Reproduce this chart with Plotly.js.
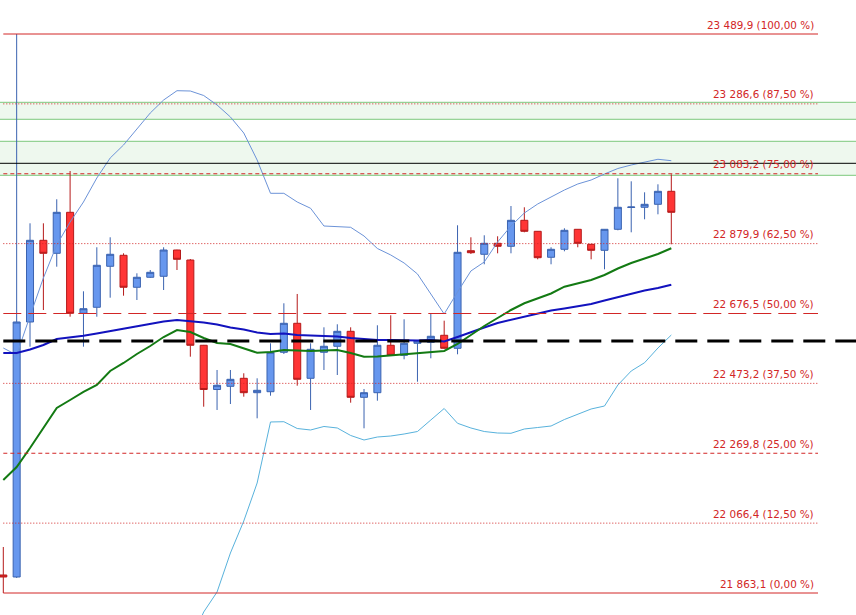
<!DOCTYPE html>
<html>
<head>
<meta charset="utf-8">
<script src="https://cdn.plot.ly/plotly-3.0.1.min.js"></script>
<style>html,body{margin:0;padding:0;background:#fff;}#chart{width:856px;height:615px;}</style>
</head>
<body>
<div id="chart"></div>
<script>
// ---- data ----
const opens  = [21915.5,21909.7,22651.8,22889.5,22851.7,22971.0,22677.1,22694.6,22813.9,22845.9,22752.8,22781.9,22784.8,22861.3,22832.2,22584.0,22455.3,22464.6,22487.9,22446.0,22448.9,22563.6,22648.0,22487.9,22563.6,22581.1,22624.7,22432.6,22446.0,22584.0,22554.8,22589.8,22592.7,22613.1,22575.2,22859.3,22848.8,22880.8,22872.1,22947.7,22915.7,22840.1,22863.3,22921.5,22877.9,22860.4,22921.5,22985.0,22985.6,22994.3,23032.1];
const highs  = [21997.0,23489.9,22939.0,22939.0,23008.9,23091.2,22741.1,22869.2,22898.3,22851.7,22793.5,22803.1,22869.2,22862.0,22835.1,22585.0,22512.1,22512.1,22502.5,22487.9,22589.8,22706.2,22733.3,22589.8,22636.3,22645.1,22636.3,22456.8,22642.2,22671.3,22659.6,22599.4,22677.1,22655.6,22933.2,22898.3,22904.1,22901.2,22989.3,22985.6,22916.5,22869.2,22924.5,22922.0,22878.5,22922.0,23070.0,23061.2,23029.2,23052.5,23081.6];
const lows   = [21863.1,21906.8,22579.9,22686.7,22812.7,22667.2,22579.9,22667.2,22722.5,22728.3,22715.8,22780.0,22744.9,22803.1,22550.8,22405.3,22395.7,22413.1,22434.4,22371.5,22437.3,22558.6,22466.4,22395.7,22512.1,22497.5,22416.9,22342.4,22422.7,22554.0,22543.2,22478.0,22546.1,22574.0,22557.8,22849.7,22819.7,22851.7,22851.7,22912.8,22834.2,22819.7,22857.5,22869.2,22834.2,22805.1,22918.6,22912.8,22950.6,22965.2,22877.9];
const closes = [21909.7,22651.8,22889.5,22851.7,22971.0,22677.1,22690.5,22816.8,22848.8,22752.8,22781.9,22796.4,22861.3,22834.2,22584.0,22455.3,22467.6,22485.0,22446.0,22453.0,22563.6,22648.0,22485.0,22572.3,22581.1,22624.7,22432.6,22446.0,22584.0,22554.8,22589.8,22596.5,22610.2,22575.2,22854.6,22853.4,22880.8,22872.1,22947.7,22915.7,22838.9,22863.3,22918.6,22880.8,22860.4,22921.5,22985.6,22986.4,22994.3,23032.1,22971.0];

const maFast = [22192.0,22229.8,22285.1,22343.3,22401.5,22424.8,22448.1,22468.4,22509.2,22532.5,22558.6,22581.9,22608.1,22628.5,22622.7,22605.2,22590.7,22587.7,22576.1,22562.4,22564.5,22570.3,22568.8,22567.4,22568.8,22570.3,22561.6,22550.8,22551.4,22554.3,22557.2,22561.6,22564.5,22567.4,22587.7,22613.9,22640.1,22663.4,22686.7,22706.2,22720.7,22734.7,22754.5,22765.3,22774.0,22788.5,22807.5,22823.5,22837.2,22849.7,22866.3];
const maSlow = [22561.6,22561.6,22571.7,22584.8,22602.3,22606.7,22611.9,22618.3,22625.6,22632.9,22640.1,22647.4,22653.2,22657.6,22654.7,22650.3,22644.5,22635.8,22629.9,22621.2,22616.8,22618.3,22613.9,22612.5,22611.0,22609.6,22605.2,22602.3,22599.4,22599.4,22597.9,22597.9,22599.4,22595.0,22608.1,22622.7,22635.8,22648.9,22657.6,22666.3,22676.5,22685.2,22691.1,22696.9,22704.2,22714.3,22724.5,22733.3,22743.4,22750.7,22760.3];
const bandUpper = [22576.1,22555.7,22669.2,22779.8,22875.9,22942.8,23001.0,23070.8,23129.0,23166.9,23213.4,23260.0,23297.8,23324.9,23324.0,23310.9,23283.3,23248.4,23201.8,23123.2,23026.3,23026.3,23001.0,22982.7,22931.1,22928.2,22927.4,22902.0,22865.7,22846.8,22823.5,22791.5,22733.3,22675.1,22739.1,22800.2,22826.4,22884.6,22931.1,22969.0,22995.2,23015.5,23035.9,23053.4,23065.0,23082.5,23098.5,23108.7,23117.4,23125.3,23121.2];
const bandLower = [null,null,null,null,null,null,null,null,null,null,null,null,null,null,21720.5,21807.8,21866.0,21979.5,22072.6,22183.2,22360.8,22361.6,22341.8,22337.5,22347.7,22343.3,22321.5,22308.4,22317.1,22320.0,22325.8,22333.1,22366.6,22400.0,22357.0,22343.3,22333.1,22328.7,22327.9,22340.4,22344.7,22349.1,22368.0,22382.6,22398.6,22407.3,22468.4,22509.2,22533.3,22576.1,22613.9];

const fibPct = [100, 87.5, 75, 62.5, 50, 37.5, 25, 12.5, 0];
const fibVal = [23489.9, 23286.6, 23083.2, 22879.9, 22676.5, 22473.2, 22269.8, 22066.4, 21863.1];
const fibDash = ['solid','1px,2px','4px,3px','1px,2px','18px,7px','1px,2px','4px,3px','1px,2px','solid'];

const greenZones = [[23241.7, 23291.1], [23078.7, 23177.6]];
const blackSolidLevel = 23113.6;
const blackDashLevel = 22596.5;

// ---- layout constants ----
const W = 856, H = 615;
const PX0 = 3.3, STEP = 13.36;
const pxToIdx = px => (px - PX0) / STEP;
const fibTopPx = 34, fibBotPx = 593;
const perPx = (fibVal[0] - fibVal[fibVal.length - 1]) / (fibBotPx - fibTopPx);
const yTop = fibVal[0] + fibTopPx * perPx;
const yBot = fibVal[0] - (H - fibTopPx) * perPx;

const idx = closes.map((_, i) => i);

const fmtNum = v => {
  const s = v.toFixed(1).split('.');
  const int = s[0].replace(/\B(?=(\d{3})+(?!\d))/g, ' ');
  return int + ',' + s[1];
};
const fmtPct = p => p.toFixed(2).replace('.', ',') + ' %';

const RED = '#D22626';
const shapes = [];
const annotations = [];

greenZones.forEach(z => {
  shapes.push({type:'rect', xref:'paper', yref:'y', x0:0, x1:1, y0:z[0], y1:z[1],
    fillcolor:'#EEF8EE', line:{width:0}, layer:'below'});
  z.forEach(v => shapes.push({type:'line', xref:'paper', yref:'y', x0:0, x1:1, y0:v, y1:v,
    line:{color:'#7CC87C', width:1}, layer:'below'}));
});

fibVal.forEach((v, i) => {
  shapes.push({type:'line', xref:'x', yref:'y', x0:0, x1:pxToIdx(818), y0:v, y1:v,
    line:{color:RED, width:1, dash:fibDash[i]}, layer:'above'});
  annotations.push({xref:'x', yref:'y', x:pxToIdx(816), y:v, xanchor:'right', yanchor:'middle',
    yshift:9.5, showarrow:false, text: fmtNum(v) + ' (' + fmtPct(fibPct[i]) + ')',
    font:{family:'DejaVu Sans, sans-serif', size:10.4, color:RED}});
});

shapes.push({type:'line', xref:'paper', yref:'y', x0:0, x1:1, y0:blackSolidLevel, y1:blackSolidLevel,
  line:{color:'#000000', width:1}, layer:'above'});
shapes.push({type:'line', xref:'x', yref:'y', x0:0, x1:pxToIdx(W + 5), y0:blackDashLevel, y1:blackDashLevel,
  line:{color:'#000000', width:3, dash:'22px,10px'}, layer:'above'});

const traces = [
  {type:'candlestick', x:idx, open:opens, high:highs, low:lows, close:closes,
   increasing:{line:{color:'#3B63B0', width:1}, fillcolor:'#6797EE'},
   decreasing:{line:{color:'#B51A1A', width:1}, fillcolor:'#FF3535'},
   whiskerwidth:0, hoverinfo:'skip'},
  {type:'scatter', mode:'lines', x:idx, y:bandUpper, line:{color:'#6C93D8', width:1}, hoverinfo:'skip'},
  {type:'scatter', mode:'lines', x:idx, y:bandLower, line:{color:'#58B2DC', width:1}, hoverinfo:'skip', connectgaps:false},
  {type:'scatter', mode:'lines', x:idx, y:maSlow, line:{color:'#1212BE', width:2}, hoverinfo:'skip'},
  {type:'scatter', mode:'lines', x:idx, y:maFast, line:{color:'#137A13', width:2}, hoverinfo:'skip'}
];

const layout = {
  width:W, height:H,
  margin:{l:0, r:0, t:0, b:0, pad:0},
  paper_bgcolor:'#ffffff', plot_bgcolor:'#ffffff',
  showlegend:false, hovermode:false, boxgap:0.25,
  xaxis:{range:[pxToIdx(0), pxToIdx(W)], visible:false, fixedrange:true, rangeslider:{visible:false}},
  yaxis:{range:[yBot, yTop], visible:false, fixedrange:true},
  shapes:shapes, annotations:annotations
};

Plotly.newPlot('chart', traces, layout, {staticPlot:true, displayModeBar:false});
</script>
</body>
</html>
